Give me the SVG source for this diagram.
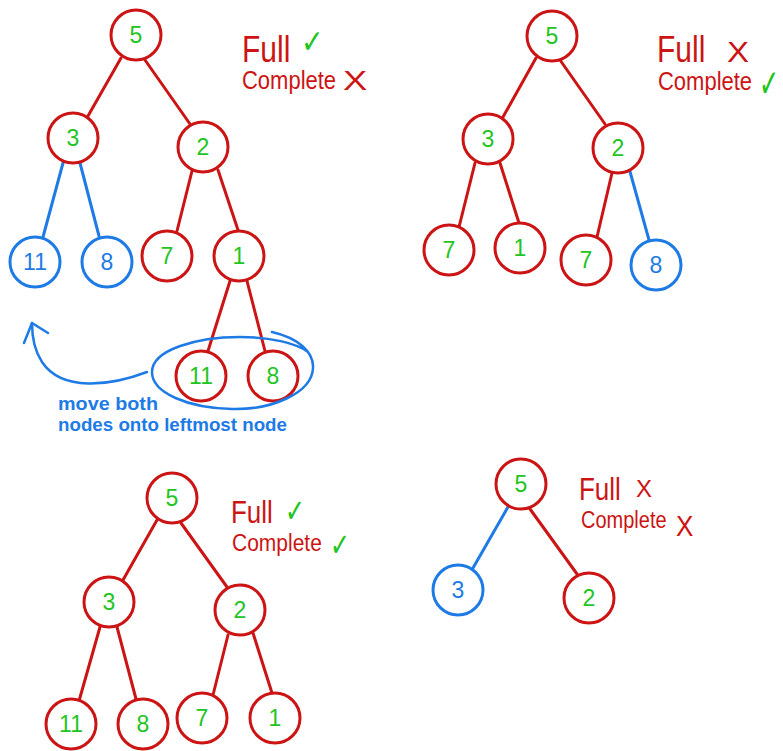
<svg xmlns="http://www.w3.org/2000/svg" width="783" height="751" viewBox="0 0 783 751">
  <style>
    .bg { fill: #ffffff; }
    .node circle { fill: #ffffff; stroke-width: 3; }
    .red circle { stroke: #cc1414; }
    .blue circle { stroke: #1e7be6; }
    .num { font-family: "Liberation Sans", "DejaVu Sans", sans-serif; font-size: 23px; text-anchor: middle; dominant-baseline: central; }
    .red .num { fill: #22c422; }
    .blue .num { fill: #1e7be6; }
    .edge { fill: none; stroke-width: 3; stroke-linecap: round; }
    .edge.r { stroke: #cc1414; }
    .edge.b { stroke: #1e7be6; }
    .lbl { font-family: "Liberation Sans", "DejaVu Sans", sans-serif; fill: #cc1414; }
    .ok { font-family: "DejaVu Sans", sans-serif; fill: #22c422; }
    .note { font-family: "Liberation Sans", "DejaVu Sans", sans-serif; font-weight: bold; font-size: 18px; fill: #1e7be6; }
    .hand { fill: none; stroke: #1e7be6; stroke-width: 2.5; stroke-linecap: round; stroke-linejoin: round; }
  </style>
  <rect class="bg" x="0" y="0" width="783" height="751"/>

  <!-- connectors -->
  <g id="connectors">
    <!-- tree A -->
    <line class="edge r" x1="121" y1="58" x2="88" y2="116"/>
    <line class="edge r" x1="145" y1="60" x2="190" y2="124"/>
    <line class="edge b" x1="63" y1="163" x2="43" y2="237"/>
    <line class="edge b" x1="80" y1="163" x2="99" y2="236"/>
    <line class="edge r" x1="192" y1="171" x2="177" y2="231"/>
    <line class="edge r" x1="218" y1="170" x2="238" y2="230"/>
    <line class="edge r" x1="230" y1="281" x2="208" y2="351"/>
    <line class="edge r" x1="247" y1="281" x2="265" y2="351"/>
    <!-- tree B -->
    <line class="edge r" x1="536" y1="58" x2="503" y2="117"/>
    <line class="edge r" x1="560" y1="60" x2="605" y2="124"/>
    <line class="edge r" x1="475" y1="163" x2="459" y2="227"/>
    <line class="edge r" x1="500" y1="163" x2="519" y2="223"/>
    <line class="edge r" x1="612" y1="173" x2="597" y2="237"/>
    <line class="edge b" x1="629" y1="168" x2="649" y2="240"/>
    <!-- tree C -->
    <line class="edge r" x1="157" y1="520" x2="123" y2="580"/>
    <line class="edge r" x1="181" y1="523" x2="227" y2="587"/>
    <line class="edge r" x1="100" y1="627" x2="79" y2="701"/>
    <line class="edge r" x1="117" y1="627" x2="136" y2="699"/>
    <line class="edge r" x1="228" y1="635" x2="213" y2="695"/>
    <line class="edge r" x1="253" y1="633" x2="272" y2="693"/>
    <!-- tree D -->
    <line class="edge b" x1="508" y1="507" x2="473" y2="568"/>
    <line class="edge r" x1="530" y1="509" x2="577" y2="574"/>
  </g>

  <!-- tree A nodes -->
  <g id="a5" class="node red"><circle cx="136" cy="35" r="25"/><text class="num" x="136" y="35">5</text></g>
  <g id="a3" class="node red"><circle cx="73" cy="138" r="25"/><text class="num" x="73" y="138">3</text></g>
  <g id="a2" class="node red"><circle cx="203" cy="147" r="25"/><text class="num" x="203" y="147">2</text></g>
  <g id="a11" class="node blue"><circle cx="35" cy="262" r="25"/><text class="num" x="35" y="262">11</text></g>
  <g id="a8" class="node blue"><circle cx="107" cy="262" r="25"/><text class="num" x="107" y="262">8</text></g>
  <g id="a7" class="node red"><circle cx="167" cy="256" r="25"/><text class="num" x="167" y="256">7</text></g>
  <g id="a1" class="node red"><circle cx="239" cy="256" r="25"/><text class="num" x="239" y="256">1</text></g>
  <g id="a11b" class="node red"><circle cx="201" cy="376" r="25"/><text class="num" x="201" y="376">11</text></g>
  <g id="a8b" class="node red"><circle cx="273" cy="376" r="25"/><text class="num" x="273" y="376">8</text></g>

  <!-- tree B nodes -->
  <g id="b5" class="node red"><circle cx="552" cy="36" r="25"/><text class="num" x="552" y="36">5</text></g>
  <g id="b3" class="node red"><circle cx="488" cy="139" r="25"/><text class="num" x="488" y="139">3</text></g>
  <g id="b2" class="node red"><circle cx="618" cy="148" r="25"/><text class="num" x="618" y="148">2</text></g>
  <g id="b7" class="node red"><circle cx="449" cy="250" r="25"/><text class="num" x="449" y="250">7</text></g>
  <g id="b1" class="node red"><circle cx="520" cy="248" r="25"/><text class="num" x="520" y="248">1</text></g>
  <g id="b7b" class="node red"><circle cx="586" cy="260" r="25"/><text class="num" x="586" y="260">7</text></g>
  <g id="b8" class="node blue"><circle cx="656" cy="265" r="25"/><text class="num" x="656" y="265">8</text></g>

  <!-- tree C nodes -->
  <g id="c5" class="node red"><circle cx="172" cy="498" r="25"/><text class="num" x="172" y="498">5</text></g>
  <g id="c3" class="node red"><circle cx="109" cy="602" r="25"/><text class="num" x="109" y="602">3</text></g>
  <g id="c2" class="node red"><circle cx="240" cy="610" r="25"/><text class="num" x="240" y="610">2</text></g>
  <g id="c11" class="node red"><circle cx="71" cy="724" r="25"/><text class="num" x="71" y="724">11</text></g>
  <g id="c8" class="node red"><circle cx="143" cy="724" r="25"/><text class="num" x="143" y="724">8</text></g>
  <g id="c7" class="node red"><circle cx="202" cy="718" r="25"/><text class="num" x="202" y="718">7</text></g>
  <g id="c1" class="node red"><circle cx="275" cy="718" r="25"/><text class="num" x="275" y="718">1</text></g>

  <!-- tree D nodes -->
  <g id="d5" class="node red"><circle cx="521" cy="484" r="25"/><text class="num" x="521" y="484">5</text></g>
  <g id="d3" class="node blue"><circle cx="458" cy="590" r="25"/><text class="num" x="458" y="590">3</text></g>
  <g id="d2" class="node red"><circle cx="589" cy="598" r="25"/><text class="num" x="589" y="598">2</text></g>

  <!-- verdict labels -->
  <g id="labels">
    <text class="lbl" transform="translate(242,62) scale(1,1.25)" font-size="30">Full</text>
    <text class="ok" transform="translate(301,53) scale(0.9,1.1)" font-size="30">✓</text>
    <text class="lbl" transform="translate(242,89) scale(1,1.15)" font-size="22">Complete</text>
    <text class="lbl" transform="translate(343,90) scale(1.3,1)" font-size="28">X</text>

    <text class="lbl" transform="translate(657,62) scale(1,1.25)" font-size="30">Full</text>
    <text class="lbl" transform="translate(727,62) scale(1.1,1)" font-size="30">X</text>
    <text class="lbl" transform="translate(658,90) scale(1,1.15)" font-size="22">Complete</text>
    <text class="ok" transform="translate(759,97) scale(0.8,1.3)" font-size="30">✓</text>

    <text class="lbl" transform="translate(231,523) scale(1,1.2)" font-size="26">Full</text>
    <text class="ok" transform="translate(285,522) scale(0.85,1.15)" font-size="28">✓</text>
    <text class="lbl" transform="translate(232,551) scale(1,1.15)" font-size="21">Complete</text>
    <text class="ok" transform="translate(330,556) scale(0.85,1.15)" font-size="28">✓</text>

    <text class="lbl" transform="translate(579,500) scale(1,1.2)" font-size="26">Full</text>
    <text class="lbl" x="636" y="497" font-size="24">X</text>
    <text class="lbl" transform="translate(676,536) scale(1,1.1)" font-size="26">X</text>
    <text class="lbl" transform="translate(581,528) scale(1,1.15)" font-size="20">Complete</text>
  </g>

  <!-- note about moving the two leaves -->
  <g id="note">
    <path class="hand" d="M 272,332 C 298,338 314,352 313,368 C 312,393 272,410 232,409 C 188,408 152,393 152,372 C 152,350 196,337 240,337 C 270,337 296,343 308,352"/>
    <path class="hand" d="M 147,372 C 110,386 62,392 42,362 C 34,350 32,336 32,323"/>
    <path class="hand" d="M 24,343 L 32,323 L 48,333"/>
    <text class="note" x="58" y="410" textLength="100" lengthAdjust="spacingAndGlyphs">move both</text>
    <text class="note" x="58" y="431" textLength="229" lengthAdjust="spacingAndGlyphs">nodes onto leftmost node</text>
  </g>
</svg>
